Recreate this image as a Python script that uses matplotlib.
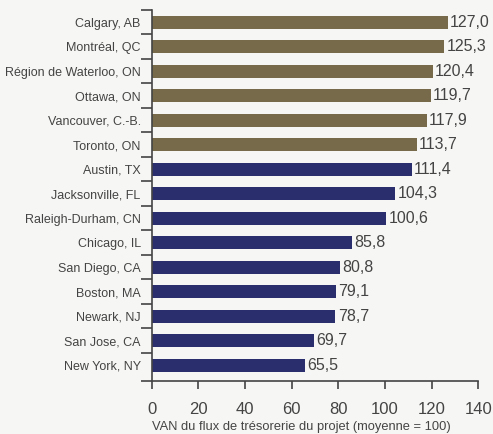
import matplotlib.pyplot as plt
import numpy as np

cities = ['Calgary, AB', 'Montréal, QC', 'Région de Waterloo, ON', 'Ottawa, ON',
          'Vancouver, C.-B.', 'Toronto, ON', 'Austin, TX', 'Jacksonville, FL',
          'Raleigh-Durham, CN', 'Chicago, IL', 'San Diego, CA', 'Boston, MA',
          'Newark, NJ', 'San Jose, CA', 'New York, NY']
values = [127.0, 125.3, 120.4, 119.7, 117.9, 113.7, 111.4, 104.3,
          100.6, 85.8, 80.8, 79.1, 78.7, 69.7, 65.5]
canada = [True] * 6 + [False] * 9

brown = '#766a4a'
navy = '#2b2e6c'
grey = '#444444'
bg = '#f6f6f4'

plt.rcParams['font.family'] = ['Liberation Sans', 'DejaVu Sans']

fig = plt.figure(figsize=(4.93, 4.34), dpi=100, facecolor=bg)
ax = fig.add_axes([0.308, 0.122, 0.662, 0.855], facecolor=bg)

n = len(cities)
y = np.arange(n)
colors = [brown if c else navy for c in canada]
ax.barh(y, values, height=0.53, color=colors)

for yi, v in zip(y, values):
    ax.text(v + 1.0, yi, '{:.1f}'.format(v).replace('.', ','), va='center',
            ha='left', fontsize=11.5, color=grey)

ybottom = n - 0.35
ax.set_xlim(0, 140)
ax.set_ylim(ybottom, -0.5)
ax.set_xticks(np.arange(0, 141, 20))
ax.set_yticks(y)
ax.set_yticklabels(cities)
ax.set_yticks(list(np.arange(-0.5, n - 1, 1.0)) + [ybottom], minor=True)
ax.tick_params(axis='y', which='major', length=0, pad=8, labelsize=9, labelcolor=grey)
ax.tick_params(axis='y', which='minor', length=8, width=1.2, color=grey)
ax.tick_params(axis='x', length=6, width=1.2, color=grey, labelsize=12, labelcolor=grey, pad=9)

for s in ['top', 'right']:
    ax.spines[s].set_visible(False)
for s in ['left', 'bottom']:
    ax.spines[s].set_color(grey)
    ax.spines[s].set_linewidth(1.2)

ax.set_xlabel('VAN du flux de trésorerie du projet (moyenne = 100)', fontsize=9.3,
              color=grey)
ax.xaxis.set_label_coords(0.457, -0.108)

fig.savefig('out.png', dpi=100, facecolor=bg)
